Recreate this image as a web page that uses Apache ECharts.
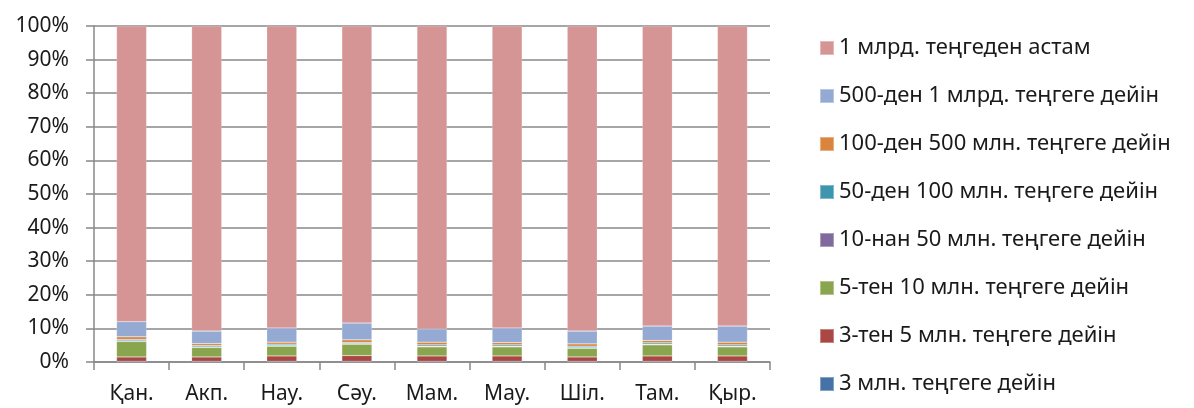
<!DOCTYPE html>
<html>
<head>
<meta charset="utf-8">
<script src="https://cdn.jsdelivr.net/npm/echarts@6/dist/echarts.min.js"></script>
<style>
  html, body { margin: 0; padding: 0; background: #fff; }
  #main { width: 1194px; height: 408px; }
</style>
</head>
<body>
<div id="main"></div>
<script>
// айлар
const months = ['Қан.', 'Акп.', 'Нау.', 'Сәу.', 'Мам.', 'Мау.', 'Шіл.', 'Там.', 'Қыр.'];

const seriesNames = [
  '3 млн. теңгеге дейін',
  '3-тен 5 млн. теңгеге дейін',
  '5-тен 10 млн. теңгеге дейін',
  '10-нан 50 млн. теңгеге дейін',
  '50-ден 100 млн. теңгеге дейін',
  '100-ден 500 млн. теңгеге дейін',
  '500-ден 1 млрд. теңгеге дейін',
  '1 млрд. теңгеден астам'
];

// үлесі, %
const upTo3 = [0.2, 0.2, 0.2, 0.2, 0.2, 0.2, 0.2, 0.2, 0.2];
const from3to5 = [1.3, 1.3, 1.6, 1.7, 1.6, 1.6, 1.3, 1.6, 1.6];
const from5to10 = [4.6, 2.8, 2.9, 3.4, 2.7, 2.7, 2.6, 3.3, 2.7];
const from10to50 = [0.2, 0.2, 0.2, 0.2, 0.2, 0.2, 0.2, 0.2, 0.2];
const from50to100 = [0.4, 0.4, 0.4, 0.3, 0.4, 0.4, 0.4, 0.4, 0.4];
const from100to500 = [0.8, 0.6, 0.6, 0.8, 0.8, 0.7, 0.7, 0.7, 0.8];
const from500to1bn = [4.5, 3.7, 4.2, 5.0, 3.9, 4.3, 3.8, 4.3, 4.8];
const over1bn = [88.0, 90.8, 89.9, 88.4, 90.2, 89.9, 90.8, 89.3, 89.3];

const yTicks = [0, 10, 20, 30, 40, 50, 60, 70, 80, 90, 100];

const colors = ['#4572A7', '#AA4643', '#89A54E', '#80699B', '#3D96AE', '#DB843D', '#94AAD2', '#D49594'];
const allData = [upTo3, from3to5, from5to10, from10to50, from50to100, from100to500, from500to1bn, over1bn];

let myChart = echarts.init(document.getElementById('main'));

const font = '"Noto Sans", "Open Sans", sans-serif';

let option = {
  animation: false,
  textStyle: { fontFamily: font },
  grid: { left: 94, right: 424, top: 26, bottom: 46 },
  legend: {
    orient: 'vertical',
    left: 814,
    top: 32,
    itemWidth: 14,
    itemHeight: 14,
    itemGap: 26,
    icon: 'rect',
    data: seriesNames.slice().reverse(),
    textStyle: { fontSize: 22, color: '#1a1a1a', lineHeight: 22, fontFamily: font }
  },
  xAxis: {
    type: 'category',
    data: months,
    boundaryGap: true,
    axisLine: { lineStyle: { color: '#888', width: 1.5 } },
    axisTick: { show: true, length: 8, alignWithLabel: false, lineStyle: { color: '#888', width: 1.5 } },
    axisLabel: { fontSize: 21, color: '#1a1a1a', margin: 22, fontFamily: font }
  },
  yAxis: {
    type: 'value',
    min: yTicks[0],
    max: yTicks[yTicks.length - 1],
    interval: 10,
    axisLine: { show: true, lineStyle: { color: '#888', width: 1.5 } },
    axisTick: { show: true, length: 8, lineStyle: { color: '#888', width: 1.5 } },
    splitLine: { lineStyle: { color: '#888', width: 1.5 } },
    axisLabel: { formatter: '{value}%', fontSize: 21, color: '#1a1a1a', margin: 25, fontFamily: font }
  },
  series: seriesNames.map((name, i) => ({
    name: name,
    type: 'bar',
    stack: 'total',
    barWidth: '40%',
    itemStyle: { color: colors[i], borderColor: 'rgba(255,255,255,0.35)', borderWidth: 0.5 },
    data: allData[i]
  }))
};

myChart.setOption(option);
</script>
</body>
</html>
